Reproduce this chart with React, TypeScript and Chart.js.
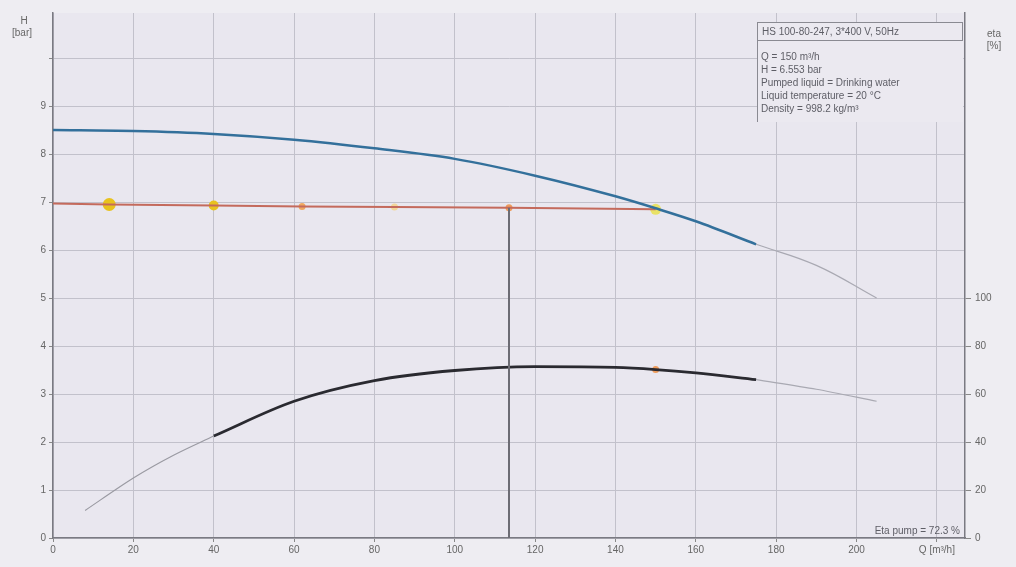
import React, { useEffect, useRef } from "react";
import { Chart, registerables } from "chart.js";

Chart.register(...registerables);

// Q-H curve (bar)
const qHead = [0, 20, 40, 60, 80, 100, 120, 140, 150, 160, 175];
const headVals = [8.5, 8.48, 8.42, 8.3, 8.12, 7.9, 7.55, 7.12, 6.87, 6.6, 6.12];
const qHeadTail = [175, 190, 205];
const headTailVals = [6.12, 5.68, 5.0];

// System / duty line (bar)
const qSystem = [0, 14, 40, 62, 85, 113.5, 150];
const systemVals = [6.97, 6.95, 6.93, 6.91, 6.9, 6.88, 6.85];
const markerColors = ["#e8c21e", "#e8c21e", "#f0a860", "#f3d69a", "#ee9c5c", "#e9e266"];
const markerSizes = [6.5, 5, 3.5, 3.5, 3.5, 5.5];

// Efficiency curve (%)
const qEtaStart = [8, 20, 30, 40];
const etaStartVals = [11.5, 25, 34.5, 42.5];
const qEta = [40, 60, 80, 100, 120, 140, 150, 160, 175];
const etaVals = [42.5, 57, 65.6, 69.8, 71.4, 71.1, 70.2, 68.8, 66];
const qEtaTail = [175, 190, 205];
const etaTailVals = [66, 62, 57];

const dutyQ = 113.5;
const dutyH = 6.88;

const infoTitle = "HS 100-80-247, 3*400 V, 50Hz";
const infoLines = [
  "Q = 150 m³/h",
  "H = 6.553 bar",
  "Pumped liquid = Drinking water",
  "Liquid temperature = 20 °C",
  "Density = 998.2 kg/m³",
];
const etaPumpText = "Eta pump = 72.3 %";

const xTicks = [0, 20, 40, 60, 80, 100, 120, 140, 160, 180, 200, 220];

const pts = (xs: number[], ys: number[]) => xs.map((x, i) => ({ x, y: ys[i] }));

const FONT = "'Liberation Sans', Arial, sans-serif";

const decorPlugin = {
  id: "decor",
  beforeDraw(chart: any) {
    const { ctx, width, height } = chart;
    ctx.save();
    ctx.fillStyle = "#eeedf2";
    ctx.fillRect(0, 0, width, height);
    const a = chart.chartArea;
    ctx.fillStyle = "#e9e7ef";
    ctx.fillRect(a.left, a.top, a.right - a.left, a.bottom - a.top);
    ctx.restore();
  },
  afterDatasetsDraw(chart: any) {
    const { ctx } = chart;
    ctx.save();
    ctx.font = `10px ${FONT}`;
    ctx.fillStyle = "#666";
    ctx.textBaseline = "middle";
    ctx.textAlign = "center";
    ctx.fillText("H", 24, 21);
    ctx.fillText("[bar]", 22, 33);
    ctx.fillText("eta", 994, 34);
    ctx.fillText("[%]", 994, 46);

    // info box
    ctx.fillStyle = "#ebe9f0";
    ctx.fillRect(757, 22, 206, 100);
    ctx.strokeStyle = "#8a8a92";
    ctx.lineWidth = 1;
    ctx.strokeRect(757.5, 22.5, 205, 18);
    ctx.beginPath();
    ctx.moveTo(757.5, 40.5);
    ctx.lineTo(757.5, 122);
    ctx.stroke();
    ctx.fillStyle = "#5e5e66";
    ctx.textAlign = "left";
    ctx.fillText(infoTitle, 762, 32);
    infoLines.forEach((t, i) => ctx.fillText(t, 761, 57 + i * 13));

    ctx.textAlign = "right";
    ctx.fillText(etaPumpText, 960, 531);
    ctx.restore();
  },
};

export default function App() {
  const ref = useRef<HTMLCanvasElement>(null);
  useEffect(() => {
    if (!ref.current) return;
    const gridColor = "#c2c1cb";
    const chart = new Chart(ref.current, {
      type: "line",
      data: {
        datasets: [
          {
            data: pts(qHeadTail, headTailVals),
            borderColor: "#a9a9b2",
            borderWidth: 1.2,
            pointRadius: 0,
            tension: 0.4,
            yAxisID: "y",
          },
          {
            data: pts(qHead, headVals),
            borderColor: "#33709b",
            borderWidth: 2.5,
            pointRadius: 0,
            cubicInterpolationMode: "monotone",
            yAxisID: "y",
          },
          {
            data: pts([dutyQ, dutyQ], [dutyH, 0]),
            borderColor: "#6c6c74",
            borderWidth: 2,
            pointRadius: 0,
            yAxisID: "y",
          },
          {
            data: pts(qSystem, systemVals),
            borderColor: "#c46a5c",
            borderWidth: 2,
            pointRadius: 0,
            yAxisID: "y",
          },
          {
            data: pts(qSystem.slice(1), systemVals.slice(1)),
            showLine: false,
            pointRadius: markerSizes,
            pointBackgroundColor: markerColors,
            pointBorderColor: markerColors,
            pointBorderWidth: 0,
            yAxisID: "y",
          },
          {
            data: pts(qEtaStart, etaStartVals),
            borderColor: "#9a9aa2",
            borderWidth: 1.2,
            pointRadius: 0,
            tension: 0.3,
            yAxisID: "y1",
          },
          {
            data: pts(qEta, etaVals),
            borderColor: "#2a2a30",
            borderWidth: 2.8,
            pointRadius: 0,
            cubicInterpolationMode: "monotone",
            yAxisID: "y1",
          },
          {
            data: pts(qEtaTail, etaTailVals),
            borderColor: "#a9a9b2",
            borderWidth: 1.2,
            pointRadius: 0,
            tension: 0.3,
            yAxisID: "y1",
          },
          {
            data: pts([150], [70.2]),
            showLine: false,
            pointRadius: 3.5,
            pointBackgroundColor: "#ee9c5c",
            pointBorderWidth: 0,
            yAxisID: "y1",
          },
        ] as any,
      },
      options: {
        responsive: false,
        animation: false,
        layout: { padding: { top: 13 } },
        plugins: { legend: { display: false }, tooltip: { enabled: false } },
        scales: {
          x: {
            type: "linear",
            min: 0,
            max: 227,
            afterFit: (s: any) => {
              s.height = 29;
            },
            afterBuildTicks: (s: any) => {
              s.ticks = xTicks.map((v) => ({ value: v }));
            },
            ticks: {
              padding: 2,
              color: "#666",
              font: { size: 10, family: FONT },
              maxRotation: 0,
              autoSkip: false,
              callback: (v: any) => (v === 220 ? "Q [m³/h]" : String(v)),
            },
            grid: { color: gridColor, tickLength: 4, tickColor: "#888" },
            border: { color: "#7a7a82", width: 1.5 },
          },
          y: {
            type: "linear",
            position: "left",
            min: 0,
            max: 10.94,
            afterFit: (s: any) => {
              s.width = 53;
            },
            ticks: {
              stepSize: 1,
              includeBounds: false,
              padding: 3,
              color: "#666",
              font: { size: 10, family: FONT },
              callback: (v: any) => (v <= 9 ? String(v) : ""),
            },
            grid: { color: gridColor, tickLength: 4, tickColor: "#888" },
            border: { color: "#7a7a82", width: 1.5 },
          },
          y1: {
            type: "linear",
            position: "right",
            min: 0,
            max: 218.8,
            afterFit: (s: any) => {
              s.width = 51;
            },
            ticks: {
              stepSize: 20,
              includeBounds: false,
              padding: 4,
              color: "#666",
              font: { size: 10, family: FONT },
              callback: (v: any) => (v <= 100 ? String(v) : ""),
            },
            grid: {
              drawOnChartArea: false,
              tickLength: 6,
              tickColor: (c: any) => (c.tick && c.tick.value <= 100 ? "#888" : "rgba(0,0,0,0)"),
            },
            border: { color: "#7a7a82", width: 1.5 },
          },
        },
      } as any,
      plugins: [decorPlugin],
    });
    return () => chart.destroy();
  }, []);
  return (
    <div style={{ position: "fixed", left: 0, top: 0, width: 1016, height: 567 }}>
      <canvas ref={ref} width={1016} height={567} style={{ display: "block" }} />
    </div>
  );
}
